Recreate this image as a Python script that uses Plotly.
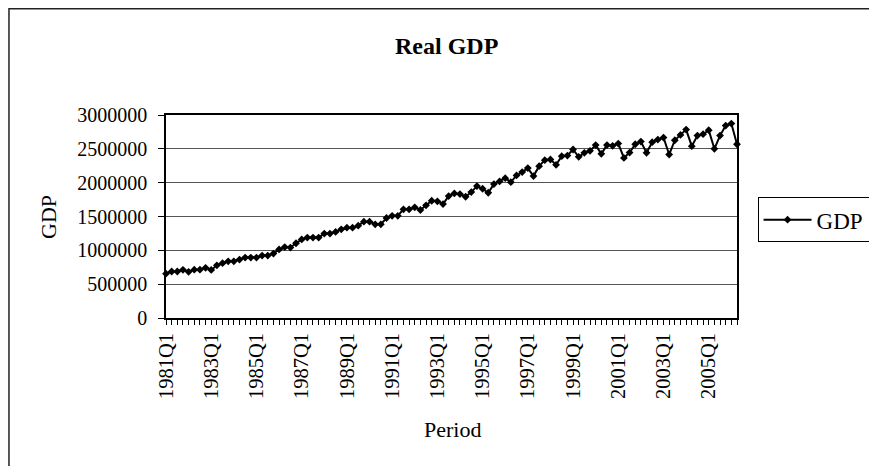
import plotly.graph_objects as go

years = list(range(1981, 2007))
quarters = [f"{y}Q{q}" for y in years for q in range(1, 5)][:102]

gdp = [
    655000, 687000, 687000, 712000,
    682000, 714000, 714000, 741000,
    710000, 778000, 810000, 837000,
    837000, 864000, 893000, 893000,
    893000, 923000, 923000, 952000,
    1014000, 1048000, 1041000, 1105000,
    1161000, 1188000, 1188000, 1188000,
    1247000, 1247000, 1272000, 1311000,
    1335000, 1335000, 1365000, 1424000,
    1424000, 1385000, 1385000, 1478000,
    1510000, 1510000, 1606000, 1606000,
    1635000, 1596000, 1665000, 1733000,
    1724000, 1684000, 1802000, 1841000,
    1832000, 1792000, 1861000, 1949000,
    1910000, 1851000, 1979000, 2018000,
    2067000, 2008000, 2107000, 2156000,
    2215000, 2097000, 2244000, 2333000,
    2342000, 2264000, 2391000, 2401000,
    2490000, 2382000, 2441000, 2470000,
    2555000, 2426000, 2555000, 2545000,
    2578000, 2366000, 2445000, 2568000,
    2608000, 2441000, 2598000, 2637000,
    2667000, 2416000, 2627000, 2706000,
    2784000, 2539000, 2696000, 2716000,
    2775000, 2500000, 2696000, 2843000,
    2873000, 2568000,
]

tick_labels = [q if i % 8 == 0 else "" for i, q in enumerate(quarters)]
y_ticks = [0, 500000, 1000000, 1500000, 2000000, 2500000, 3000000]

FONT = "Liberation Serif"

fig = go.Figure()
fig.add_trace(go.Scatter(
    x=quarters, y=gdp, name="GDP", mode="lines+markers",
    line=dict(color="black", width=2),
    marker=dict(symbol="diamond", size=6, color="black"),
    cliponaxis=False,
))

fig.update_layout(
    width=877, height=466,
    margin=dict(l=158, r=148, t=107, b=156, autoexpand=False),
    paper_bgcolor="white", plot_bgcolor="white",
    font=dict(family=FONT, size=20, color="black"),
    showlegend=True,
    legend=dict(
        x=1.036, y=0.595, xanchor="left", yanchor="top",
        bordercolor="black", borderwidth=1, bgcolor="white",
        itemwidth=48,
        font=dict(family=FONT, size=23, color="black"),
    ),
    xaxis=dict(
        type="category", range=[0, len(quarters) - 1],
        tickmode="array", tickvals=quarters, ticktext=tick_labels,
        tickangle=-90, ticks="outside", ticklen=5, tickcolor="black",
        showline=True, linecolor="black", linewidth=1.5, mirror=True,
        showgrid=False, zeroline=False,
        tickfont=dict(family=FONT, size=20.5, color="black"),
    ),
    yaxis=dict(
        range=[0, 3000000], tickmode="array", tickvals=y_ticks,
        ticktext=[str(v) for v in y_ticks],
        ticks="outside", ticklen=6, tickcolor="black",
        showline=True, linecolor="black", linewidth=1.5, mirror=True,
        showgrid=True, gridcolor="#555555", gridwidth=1, zeroline=False,
        ticklabelstandoff=7,
        tickfont=dict(family=FONT, size=20, color="black"),
    ),
    annotations=[
        dict(text="<b>Real GDP</b>", xref="paper", yref="paper", x=0.492, y=1.342,
             xanchor="center", yanchor="middle", showarrow=False,
             font=dict(family=FONT, size=24, color="black")),
        dict(text="Period", xref="paper", yref="paper", x=0.5026, y=-0.549,
             xanchor="center", yanchor="middle", showarrow=False,
             font=dict(family=FONT, size=22, color="black")),
        dict(text="GDP", xref="paper", yref="paper", x=-0.2067, y=0.4975,
             xanchor="center", yanchor="middle", showarrow=False, textangle=-90,
             font=dict(family=FONT, size=22, color="black")),
    ],
    shapes=[
        dict(type="path", xref="paper", yref="paper",
             path="M -0.275,-2 L -0.275,1.524 L 3,1.524",
             line=dict(color="#222222", width=1.5)),
    ],
)

fig.write_html("out.html")
